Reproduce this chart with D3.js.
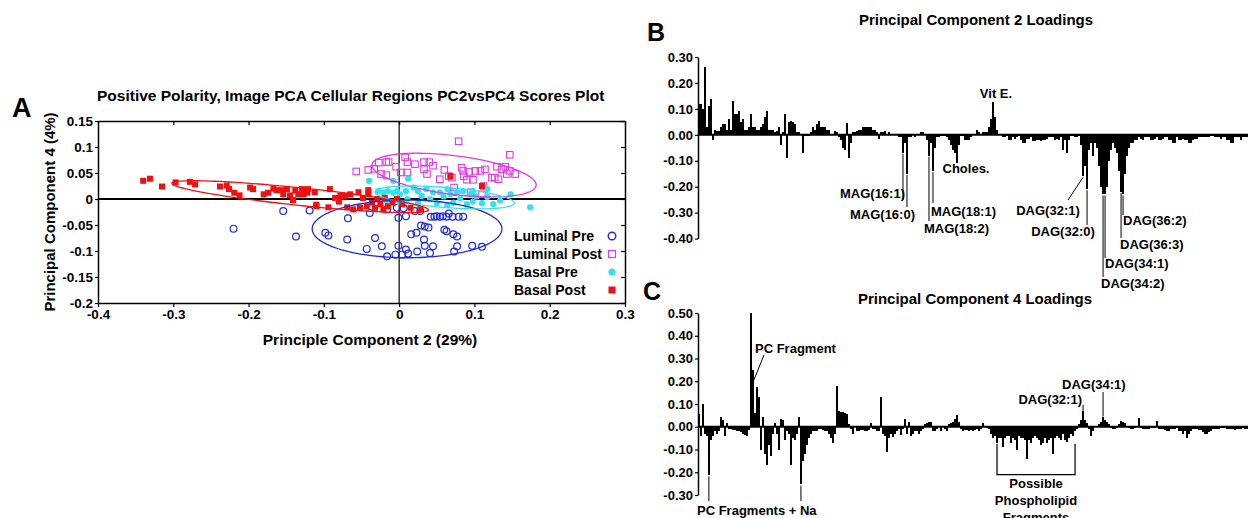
<!DOCTYPE html>
<html><head><meta charset="utf-8">
<script src="https://cdn.jsdelivr.net/npm/d3@7"></script>
<style>
body{margin:0;background:#fff}
svg{display:block}
text{font-family:"Liberation Sans",Arial,sans-serif;font-weight:bold;fill:#000}
</style></head>
<body><svg id="c" width="1248" height="518"></svg>
<script>
// ---------------- DATA ----------------
// Panel A: scores (PC2, PC4)
const lumPre = [[-0.220,-0.057],[-0.154,-0.023],[-0.137,-0.072],[-0.119,-0.022],[-0.098,-0.065],[-0.094,-0.070],
[-0.069,-0.078],[-0.068,-0.037],[-0.043,-0.096],[-0.039,-0.027],[-0.032,-0.075],[-0.023,-0.091],[-0.016,-0.110],
[-0.016,-0.020],[-0.005,-0.107],[-0.003,-0.017],[-0.001,-0.090],[-0.001,-0.036],[0.004,-0.107],[0.006,-0.018],
[0.009,-0.097],[0.012,-0.105],[0.009,-0.033],[0.016,-0.068],[0.021,-0.023],[0.023,-0.065],[0.024,-0.101],
[0.028,-0.023],[0.029,-0.051],[0.033,-0.078],[0.034,-0.090],[0.034,-0.053],[0.039,-0.055],[0.041,-0.104],
[0.042,-0.034],[0.045,-0.091],[0.047,-0.034],[0.050,-0.033],[0.054,-0.034],[0.058,-0.033],[0.060,-0.059],
[0.063,-0.062],[0.066,-0.028],[0.072,-0.068],[0.073,-0.101],[0.077,-0.091],[0.077,-0.072],[0.079,-0.034],
[0.085,-0.034],[0.097,-0.090],[0.110,-0.092],[0.063,-0.034],[0.071,-0.034]];
const lumPost = [[0.079,0.111],[0.147,0.085],[-0.057,0.053],[-0.041,0.056],[-0.033,0.058],[-0.027,0.070],
[-0.024,0.048],[-0.017,0.071],[-0.014,0.071],[-0.017,0.046],[-0.004,0.062],[0.002,0.051],[0.008,0.080],
[0.011,0.071],[0.011,0.051],[0.021,0.067],[0.033,0.071],[0.033,0.057],[0.037,0.048],[0.040,0.071],[0.045,0.064],
[0.054,0.038],[0.060,0.056],[0.066,0.044],[0.070,0.041],[0.073,0.022],[0.083,0.060],[0.085,0.054],[0.086,0.044],
[0.090,0.037],[0.093,0.052],[0.098,0.037],[0.101,0.054],[0.108,0.054],[0.112,0.025],[0.114,0.057],[0.123,0.041],
[0.127,0.041],[0.130,0.062],[0.132,0.038],[0.136,0.057],[0.141,0.062],[0.143,0.048],[0.147,0.054],[0.154,0.048],
[0.095,0.013],[0.110,0.009],[0.072,0.013]];
const basPre = [[-0.040,0.035],[-0.008,0.035],[0.012,0.039],[-0.028,0.015],[-0.021,0.013],[-0.015,0.015],
[-0.008,0.012],[-0.003,0.015],[0.001,0.009],[0.009,0.015],[0.019,0.022],[0.025,0.015],[0.030,0.006],[0.036,0.019],
[0.041,0.000],[0.045,0.013],[0.050,-0.008],[0.054,0.013],[0.059,0.005],[0.064,0.019],[0.068,0.009],[0.072,-0.007],
[0.077,0.013],[0.081,0.001],[0.085,0.015],[0.090,-0.010],[0.094,0.009],[0.098,-0.005],[0.103,0.005],[0.110,-0.008],
[0.117,0.004],[0.125,-0.010],[0.134,-0.003],[0.148,0.009],[0.174,-0.016],[0.001,-0.007],[-0.017,-0.003],
[0.011,0.000],[0.025,-0.008],[0.064,-0.012],[0.098,0.015],[0.117,0.019]];
const basPost = [[-0.340,0.035],[-0.331,0.039],[-0.315,0.024],[-0.297,0.032],[-0.278,0.033],[-0.271,0.028],
[-0.238,0.024],[-0.229,0.026],[-0.226,0.019],[-0.219,0.012],[-0.212,0.007],[-0.198,0.022],[-0.194,0.019],
[-0.180,0.009],[-0.174,0.012],[-0.167,0.020],[-0.163,0.017],[-0.156,0.017],[-0.154,0.009],[-0.149,0.019],
[-0.145,0.007],[-0.141,-0.002],[-0.138,0.016],[-0.134,0.009],[-0.129,0.019],[-0.127,0.009],[-0.122,0.012],
[-0.110,-0.011],[-0.094,-0.016],[-0.092,0.019],[-0.121,0.019],[-0.112,0.013],[-0.110,-0.014],[-0.085,0.002],
[-0.078,0.006],[-0.072,0.006],[-0.065,0.009],[-0.061,-0.020],[-0.054,0.013],[-0.052,-0.017],[-0.048,0.002],
[-0.043,-0.014],[-0.041,0.009],[-0.036,-0.007],[-0.032,-0.017],[-0.029,0.000],[-0.025,-0.010],[-0.021,-0.020],
[-0.019,0.002],[-0.015,-0.014],[-0.009,-0.007],[-0.003,0.000],[0.004,-0.010],[0.015,-0.017],[0.028,-0.020],
[-0.041,0.017],[-0.069,-0.016],[-0.080,-0.005],[0.068,0.044],[0.110,0.025]];
// confidence ellipses: [centre x, centre y, axis1 x, axis1 y, axis2 x, axis2 y]
const ellLumPre  = [0.0105,-0.0575,0.126,0,0,0.0555];
const ellLumPost = [0.073,0.046,0.109,-0.019,0,0.0375];
const ellBasPre  = [0.0605,0.003,0.0925,-0.0106,0,0.0193];
const ellBasPost = [-0.1315,0.0045,0.1705,-0.0255,0,0.017];
const legendLabels = ["Luminal Pre","Luminal Post","Basal Pre","Basal Post"];
const pcXTicks = [-0.4,-0.3,-0.2,-0.1,0,0.1,0.2,0.3];
const pcXTickLabels = ["-0.4","-0.3","-0.2","-0.1","0","0.1","0.2","0.3"];
const pcYTicks = [0.15,0.1,0.05,0,-0.05,-0.1,-0.15,-0.2];
const pcYTickLabels = ["0.15","0.1","0.05","0","-0.05","-0.1","-0.15","-0.2"];

// Panel B: PC2 loadings
const pc2Loadings = [
0.12,0.12,0.10,0.26,0.03,0.11,0.14,-0.02,0.02,0.015,
0.015,0.03,0.04,0.04,0.02,0.06,0.02,0.13,0.08,0.08,
0.09,0.05,0.06,0.02,0.02,0.03,0.08,0.03,0.03,0.02,
0.02,0.03,0.04,0.07,0.09,0.02,0.02,0.02,0.01,0.015,
0.03,-0.04,0.01,0.08,-0.09,0.05,0.055,0.05,0.04,0.01,
0.01,0.005,-0.07,-0.005,-0.005,-0.005,0.01,0.03,0.02,0.04,
0.055,0.03,0.03,0.03,0.02,0.02,0.005,0.005,0.015,0.01,
-0.01,-0.02,-0.05,-0.06,0.045,-0.09,-0.03,0.01,0.01,0.015,
0.02,0.02,0.03,0.03,0.03,0.03,0.03,0.02,0.02,0.01,
-0.015,0.01,0.01,0.015,0.005,0.01,0.005,0.005,0.005,0.005,
-0.01,-0.01,-0.07,-0.03,-0.15,-0.01,-0.01,0.005,-0.01,0.005,
0.005,0.01,0.01,0.005,-0.02,-0.08,-0.03,-0.14,-0.05,-0.01,
-0.01,-0.005,-0.005,-0.005,-0.01,-0.02,-0.04,-0.06,-0.07,-0.11,
-0.04,-0.005,-0.005,-0.02,-0.02,-0.02,-0.01,0.005,0.005,0.02,
0.01,0.005,0.01,0.01,0.01,0.03,0.06,0.125,0.07,0.02,
0.005,0.005,-0.01,-0.01,-0.005,-0.02,-0.02,-0.01,-0.015,-0.01,
-0.005,-0.02,-0.03,-0.03,-0.015,-0.015,-0.01,-0.025,-0.025,-0.02,
-0.02,-0.025,-0.02,-0.02,-0.015,-0.01,-0.01,-0.01,-0.02,-0.015,
-0.02,-0.01,-0.06,-0.02,-0.07,-0.02,-0.005,-0.005,-0.01,-0.01,
-0.005,-0.04,-0.16,-0.12,-0.21,-0.06,-0.03,-0.08,-0.03,-0.05,
-0.12,-0.2,-0.23,-0.23,-0.2,-0.1,-0.06,-0.03,-0.05,-0.07,
-0.14,-0.22,-0.23,-0.15,-0.08,-0.05,-0.03,-0.03,-0.02,-0.02,
-0.01,-0.015,-0.02,-0.01,-0.01,-0.01,-0.02,-0.02,-0.015,-0.01,
-0.02,-0.02,-0.015,-0.01,-0.01,-0.02,-0.02,-0.03,-0.03,-0.01,
-0.02,-0.02,-0.015,-0.02,-0.02,-0.03,-0.03,-0.02,-0.015,-0.015,
-0.01,-0.01,-0.01,-0.01,-0.01,-0.01,-0.005,-0.005,-0.01,-0.01,
-0.01,-0.015,-0.01,-0.01,-0.02,-0.02,-0.03,-0.03,-0.01,-0.01,
-0.01,-0.02,-0.01,-0.01,-0.01];
const pc2Ticks = [0.3,0.2,0.1,0,-0.1,-0.2,-0.3,-0.4];
const pc2TickLabels = ["0.30","0.20","0.10","0.00","-0.10","-0.20","-0.30","-0.40"];
const pc2Notes = [
 {t:"MAG(16:1)", i:102, tx:905, ty:198, a:"end", to:200},
 {t:"MAG(16:0)", i:104, tx:915, ty:219, a:"end", to:207},
 {t:"MAG(18:1)", i:117, tx:931, ty:216, a:"start", to:203},
 {t:"MAG(18:2)", i:115, tx:924, ty:233, a:"start", to:221},
 {t:"Choles.", i:129, tx:966, ty:173, a:"middle", to:null},
 {t:"Vit E.", i:147, tx:996, ty:98, a:"middle", to:null},
 {t:"DAG(32:1)", i:192, tx:1048, ty:215, a:"middle", to:200, dx:1068},
 {t:"DAG(32:0)", i:194, tx:1063, ty:236, a:"middle", to:225},
 {t:"DAG(34:1)", i:203, tx:1105, ty:268, a:"start", to:258},
 {t:"DAG(34:2)", i:202, tx:1101, ty:288, a:"start", to:277},
 {t:"DAG(36:3)", i:211, tx:1120, ty:249, a:"start", to:238},
 {t:"DAG(36:2)", i:212, tx:1123, ty:225, a:"start", to:215}];

// Panel C: PC4 loadings
const pc4Loadings = [
0.055,-0.04,0.10,-0.03,-0.04,-0.21,-0.06,-0.04,-0.02,-0.03,
-0.02,0.045,0.03,-0.04,0.015,-0.01,-0.01,-0.015,-0.015,-0.02,
-0.02,-0.025,-0.03,-0.035,-0.04,-0.015,0.50,0.25,0.06,0.175,
0.13,-0.10,0.045,-0.12,-0.17,-0.08,-0.13,-0.03,0.015,-0.03,
-0.10,0.035,0.03,-0.06,-0.02,-0.03,-0.17,-0.05,-0.06,-0.03,
0.045,-0.25,-0.15,-0.12,-0.08,-0.05,-0.03,-0.02,-0.02,-0.02,
-0.01,-0.01,-0.015,-0.02,-0.02,-0.03,-0.05,-0.07,-0.03,0.18,
0.07,0.065,0.065,0.06,0.055,0.01,-0.01,-0.03,0.005,-0.02,
-0.02,-0.015,-0.015,-0.02,-0.02,-0.015,0.015,-0.01,-0.01,-0.02,
-0.02,0.13,-0.03,-0.04,-0.11,-0.05,-0.03,-0.045,-0.03,-0.02,
-0.01,-0.035,-0.01,0.035,-0.03,0.02,-0.04,-0.03,-0.02,-0.02,
-0.03,-0.02,-0.01,0.01,0.015,0.02,0.02,-0.02,-0.02,-0.01,
0.005,-0.02,0.005,-0.01,-0.02,0.01,0.015,0.02,0.035,0.05,
0.02,-0.01,-0.02,-0.015,-0.015,-0.02,-0.015,-0.02,-0.015,-0.01,
-0.02,-0.01,0.015,0.005,-0.005,-0.01,-0.03,-0.05,-0.04,-0.07,
-0.05,-0.05,-0.09,-0.05,-0.04,-0.04,-0.07,-0.05,-0.06,-0.1,
-0.04,-0.05,-0.05,-0.06,-0.14,-0.06,-0.07,-0.05,-0.04,-0.05,
-0.06,-0.08,-0.07,-0.05,-0.07,-0.06,-0.05,-0.12,-0.05,-0.04,
-0.05,-0.06,-0.03,-0.06,-0.065,-0.05,-0.03,-0.04,-0.02,-0.01,
0.01,0.03,0.07,0.03,0.015,-0.01,-0.04,-0.02,0.005,0.005,
0.01,0.02,0.045,0.03,0.02,0.01,-0.005,-0.01,-0.01,-0.005,
0.01,0.025,0.02,0.015,0.005,-0.005,-0.01,-0.01,-0.005,0.005,
0.04,-0.005,-0.01,-0.01,-0.01,-0.01,-0.005,-0.005,-0.005,0.025,
-0.01,-0.01,-0.01,-0.015,-0.02,-0.02,-0.01,-0.01,-0.01,-0.005,
-0.02,-0.02,-0.03,-0.02,-0.05,-0.03,-0.02,-0.01,-0.01,-0.01,
-0.015,-0.015,-0.025,-0.03,-0.03,-0.025,-0.02,-0.01,-0.01,-0.01,
-0.01,-0.005,-0.005,-0.005,-0.01,-0.01,-0.01,-0.01,-0.015,-0.01,
-0.01,-0.01,-0.005,-0.01,-0.01];
const pc4Ticks = [0.5,0.4,0.3,0.2,0.1,0,-0.1,-0.2,-0.3];
const pc4TickLabels = ["0.50","0.40","0.30","0.20","0.10","0.00","-0.10","-0.20","-0.30"];

// ---------------- DRAW ----------------
const svg = d3.select("#c");
const FONT = '"Liberation Sans",Arial,sans-serif';
function styleAxis(g, fs){
  g.attr("font-family",FONT).attr("font-size",fs).attr("font-weight","bold");
  g.selectAll(".domain").attr("stroke","#000").attr("stroke-width",1.5);
  g.selectAll(".tick line").attr("stroke","#000").attr("stroke-width",1.2);
  g.selectAll(".tick text").attr("fill","#000");
}

// ===== Panel A =====
const xA = d3.scaleLinear().domain([-0.4,0.3]).range([98,625]);
const yA = d3.scaleLinear().domain([-0.2,0.15]).range([303,121]);
const COL = {lumPre:"#1f2bd6", lumPost:"#e03ae0", basPre:"#2fe3ec", basPost:"#ee1111"};

svg.append("text").attr("x",12).attr("y",117).attr("font-size",27).text("A");
svg.append("text").attr("x",97).attr("y",101).attr("font-size",15.5)
  .text("Positive Polarity, Image PCA Cellular Regions PC2vsPC4 Scores Plot");

styleAxis(svg.append("g").attr("transform","translate(0,303)")
  .call(d3.axisBottom(xA).tickValues(pcXTicks).tickFormat((d,i)=>pcXTickLabels[i]).tickSize(4).tickSizeOuter(0).tickPadding(2)),13.5);
styleAxis(svg.append("g").attr("transform","translate(98,0)")
  .call(d3.axisLeft(yA).tickValues(pcYTicks).tickFormat((d,i)=>pcYTickLabels[i]).tickSize(3).tickSizeOuter(0).tickPadding(2)),13.5);
styleAxis(svg.append("g").attr("transform","translate(0,121)")
  .call(d3.axisTop(xA).tickValues(pcXTicks).tickFormat("").tickSize(-4).tickSizeOuter(0)),13);
styleAxis(svg.append("g").attr("transform","translate(625,0)")
  .call(d3.axisRight(yA).tickValues(pcYTicks).tickFormat("").tickSize(-4).tickSizeOuter(0)),13);

svg.append("line").attr("x1",xA(-0.4)).attr("x2",xA(0.3)).attr("y1",yA(0)).attr("y2",yA(0))
  .attr("stroke","#000").attr("stroke-width",2);
svg.append("line").attr("x1",xA(0)).attr("x2",xA(0)).attr("y1",yA(0.15)).attr("y2",yA(-0.2))
  .attr("stroke","#000").attr("stroke-width",1.2);

svg.append("text").attr("transform","translate(55,212) rotate(-90)").attr("text-anchor","middle")
  .attr("font-size",15).text("Principal Component 4 (4%)");
svg.append("text").attr("x",370).attr("y",345).attr("text-anchor","middle")
  .attr("font-size",15.5).text("Principle Component 2 (29%)");

const tt = d3.range(0, 2*Math.PI + 0.05, 0.05);
function ellipse(e, col){
  const line = d3.line().x(t=>xA(e[0]+e[2]*Math.cos(t)+e[4]*Math.sin(t)))
                        .y(t=>yA(e[1]+e[3]*Math.cos(t)+e[5]*Math.sin(t)));
  svg.append("path").attr("d",line(tt)+"Z").attr("fill","none").attr("stroke",col).attr("stroke-width",1.3);
}
function circles(data,col,filled,r){
  svg.append("g").selectAll("circle").data(data).join("circle")
    .attr("cx",d=>xA(d[0])).attr("cy",d=>yA(d[1])).attr("r",r)
    .attr("fill",filled?col:"none").attr("stroke",filled?"none":col).attr("stroke-width",1.2);
}
function squares(data,col,filled,s){
  svg.append("g").selectAll("rect").data(data).join("rect")
    .attr("x",d=>xA(d[0])-s/2).attr("y",d=>yA(d[1])-s/2).attr("width",s).attr("height",s)
    .attr("fill",filled?col:"none").attr("stroke",filled?"none":col).attr("stroke-width",1.1);
}
circles(lumPre,COL.lumPre,false,3.4);
squares(lumPost,COL.lumPost,false,6.5);
circles(basPre,COL.basPre,true,3.1);
squares(basPost,COL.basPost,true,6);
ellipse(ellLumPre,COL.lumPre);
ellipse(ellLumPost,COL.lumPost);
ellipse(ellBasPre,COL.basPre);
ellipse(ellBasPost,COL.basPost);

// legend
const lg = svg.append("g");
const legCols = [COL.lumPre,COL.lumPost,COL.basPre,COL.basPost];
legendLabels.forEach((lab,i)=>{
  const cy = 236 + i*18;
  lg.append("text").attr("x",514).attr("y",cy+5).attr("font-size",14).text(lab);
  if(i===0) lg.append("circle").attr("cx",612).attr("cy",cy).attr("r",3.8).attr("fill","none").attr("stroke",legCols[i]).attr("stroke-width",1.4);
  if(i===1) lg.append("rect").attr("x",608.5).attr("y",cy-3.5).attr("width",7).attr("height",7).attr("fill","none").attr("stroke",legCols[i]).attr("stroke-width",1.2);
  if(i===2) lg.append("circle").attr("cx",612).attr("cy",cy).attr("r",3.6).attr("fill",legCols[i]);
  if(i===3) lg.append("rect").attr("x",608.5).attr("y",cy-3.5).attr("width",7).attr("height",7).attr("fill",legCols[i]);
});

// ===== Loadings panels =====
function loadings(vals, y, ticks, tickLabels){
  const x = d3.scaleBand().domain(d3.range(vals.length)).range([698,1248]).paddingInner(0.12);
  svg.append("g").selectAll("rect").data(vals).join("rect")
    .attr("x",(d,i)=>x(i)).attr("width",x.bandwidth())
    .attr("y",d=>y(Math.max(0,d))).attr("height",d=>Math.abs(y(d)-y(0)))
    .attr("fill","#000").attr("shape-rendering","crispEdges");
  svg.append("line").attr("x1",698).attr("x2",1248).attr("y1",y(0)).attr("y2",y(0))
    .attr("stroke","#000").attr("stroke-width",2);
  styleAxis(svg.append("g").attr("transform","translate(698,0)")
    .call(d3.axisLeft(y).tickValues(ticks).tickFormat((d,i)=>tickLabels[i]).tickSize(3).tickSizeOuter(0).tickPadding(2)),13);
  return x;
}
const yB = d3.scaleLinear().domain([-0.4,0.3]).range([238.6,57]);
const xB = loadings(pc2Loadings, yB, pc2Ticks, pc2TickLabels);
svg.append("text").attr("x",647).attr("y",41).attr("font-size",25).text("B");
svg.append("text").attr("x",976).attr("y",25).attr("text-anchor","middle").attr("font-size",15)
  .text("Principal Component 2 Loadings");
pc2Notes.forEach(n=>{
  const bx = xB(n.i)+xB.bandwidth()/2, by = yB(pc2Loadings[n.i]);
  if(n.to!==null){
    svg.append("line").attr("x1",bx).attr("x2",n.dx!==undefined?n.dx:bx)
      .attr("y1",by+1).attr("y2",n.to).attr("stroke","#000").attr("stroke-width",1);
  }
  svg.append("text").attr("x",n.tx).attr("y",n.ty).attr("text-anchor",n.a).attr("font-size",13).text(n.t);
});

const yC = d3.scaleLinear().domain([-0.3,0.5]).range([495,313]);
const xC = loadings(pc4Loadings, yC, pc4Ticks, pc4TickLabels);
svg.append("text").attr("x",643).attr("y",300).attr("font-size",25).text("C");
svg.append("text").attr("x",975).attr("y",304).attr("text-anchor","middle").attr("font-size",15)
  .text("Principal Component 4 Loadings");
const cx = i => xC(i)+xC.bandwidth()/2;
// PC Fragment
svg.append("text").attr("x",755).attr("y",353).attr("font-size",13).text("PC Fragment");
svg.append("line").attr("x1",764).attr("y1",355).attr("x2",cx(27)).attr("y2",yC(pc4Loadings[27]*0.78))
  .attr("stroke","#000").attr("stroke-width",1);
// PC Fragments + Na
svg.append("text").attr("x",697).attr("y",515).attr("font-size",13).text("PC Fragments + Na");
[5,51].forEach(i=>{
  svg.append("line").attr("x1",cx(i)).attr("x2",cx(i)).attr("y1",yC(pc4Loadings[i])+2).attr("y2",501)
    .attr("stroke","#000").attr("stroke-width",1);
});
// DAG notes
svg.append("text").attr("x",1082).attr("y",404).attr("text-anchor","end").attr("font-size",13).text("DAG(32:1)");
svg.append("line").attr("x1",cx(192)).attr("x2",cx(192)).attr("y1",405).attr("y2",yC(pc4Loadings[192])).attr("stroke","#000").attr("stroke-width",1);
svg.append("text").attr("x",1062).attr("y",389).attr("font-size",13).text("DAG(34:1)");
svg.append("line").attr("x1",cx(202)).attr("x2",cx(202)).attr("y1",392).attr("y2",yC(pc4Loadings[202])).attr("stroke","#000").attr("stroke-width",1);
// bracket
const bl = cx(149), br = cx(188), bt = yC(-0.075), bb = yC(-0.21);
svg.append("path").attr("d",`M${bl},${bt}V${bb}H${br}V${bt}`).attr("fill","none").attr("stroke","#000").attr("stroke-width",1.2);
["Possible","Phospholipid","Fragments"].forEach((s,i)=>{
  svg.append("text").attr("x",1036).attr("y",488+i*17).attr("text-anchor","middle").attr("font-size",13).text(s);
});
</script></body></html>
